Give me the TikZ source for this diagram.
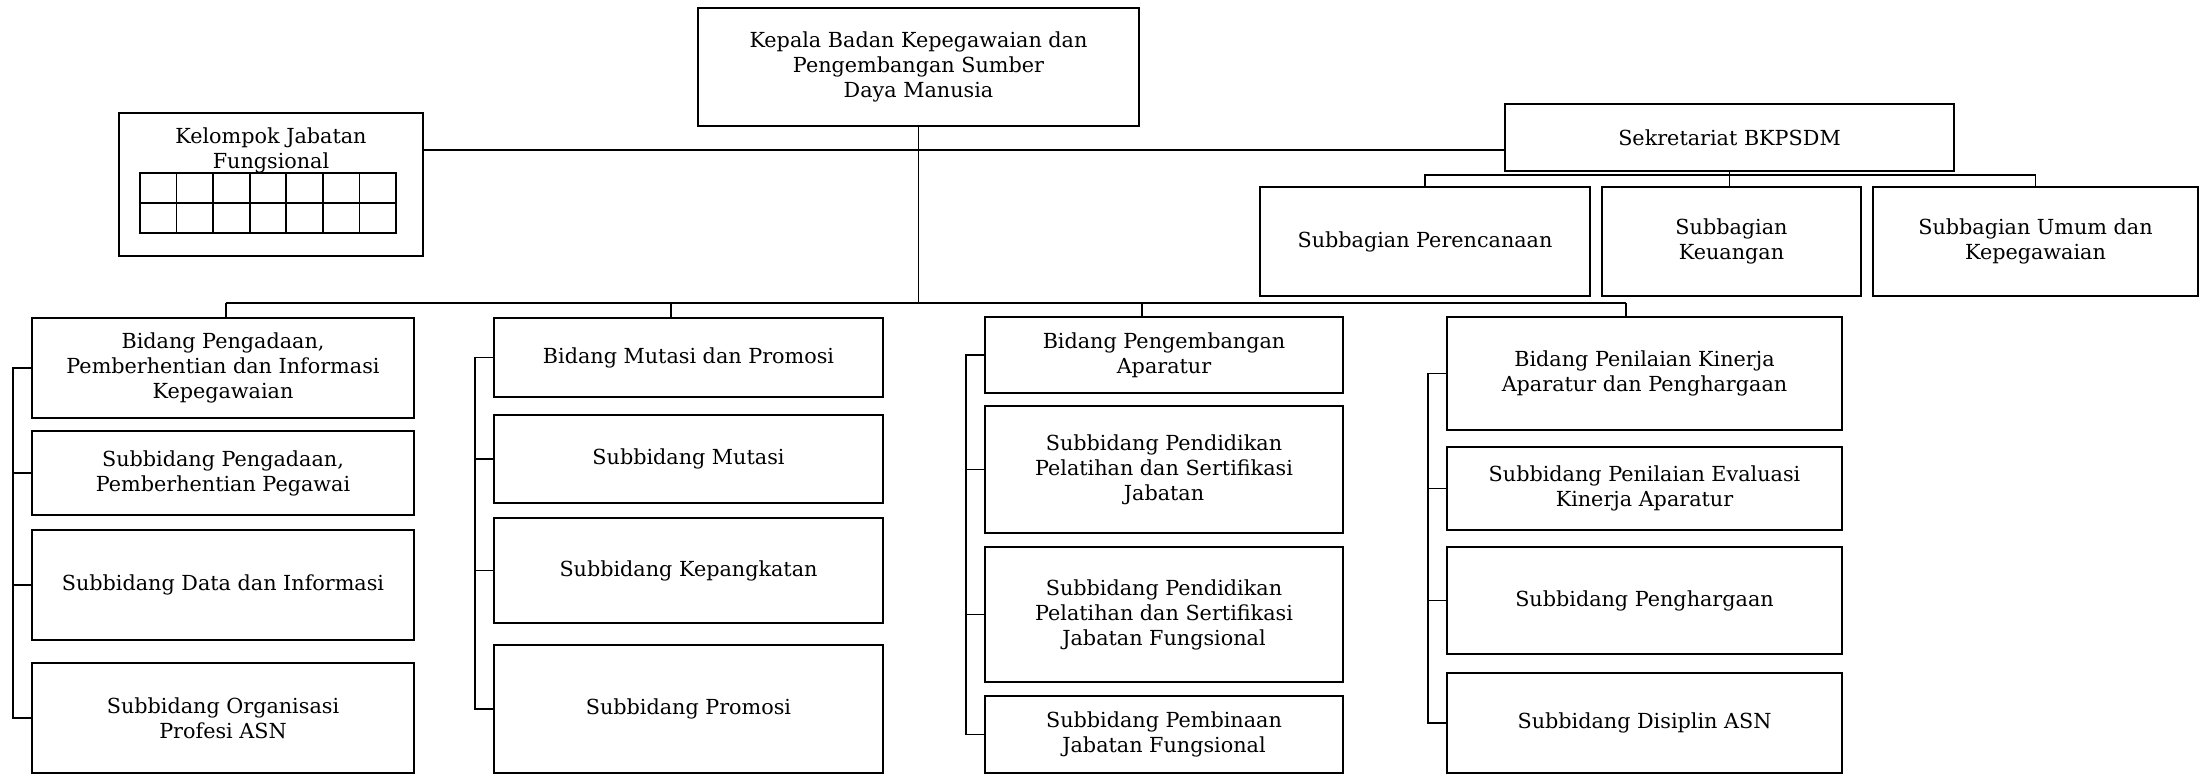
\documentclass[tikz,border=0pt]{standalone}
\usepackage{fontspec}
\setmainfont{DejaVu Serif}

\begin{document}
\begin{tikzpicture}[x=0.02cm,y=-0.02cm,
    box/.style={draw,line width=1pt,inner sep=0pt,outer sep=0pt,align=center,
      font=\fontsize{11.8}{14.2}\selectfont},
    wh/.style args={#1/#2}{minimum width=#1*0.02cm,minimum height=#2*0.02cm},
    lbl/.style={align=center,inner sep=0pt,font=\fontsize{11.8}{14.2}\selectfont},
    link/.style={line width=1pt}]

  \useasboundingbox (0,0) rectangle (2202,775);

  \node[box,wh=441/118] (kep) at (918.5,67)    {Kepala Badan Kepegawaian dan\\Pengembangan Sumber\\Daya Manusia};
  \node[box,wh=304/143] (kel) at (271,184.5)   {};
  \node[lbl]            (kelt) at (271,150)    {Kelompok Jabatan\\Fungsional};
  \node[box,wh=449/67]  (sek) at (1729.5,137.5) {Sekretariat BKPSDM};

  \node[box,wh=330/109] (per) at (1425,241.5)   {Subbagian Perencanaan};
  \node[box,wh=259/109] (keu) at (1731.5,241.5) {Subbagian\\Keuangan};
  \node[box,wh=325/109] (umu) at (2035.5,241.5) {Subbagian Umum dan\\Kepegawaian};

  % bidang pengadaan
  \node[box,wh=382/100] (a1) at (223,368) {Bidang Pengadaan,\\Pemberhentian dan Informasi\\Kepegawaian};
  \node[box,wh=382/84]  (a2) at (223,473) {Subbidang Pengadaan,\\Pemberhentian Pegawai};
  \node[box,wh=382/110] (a3) at (223,585) {Subbidang Data dan Informasi};
  \node[box,wh=382/110] (a4) at (223,718) {Subbidang Organisasi\\Profesi ASN};

  % bidang mutasi
  \node[box,wh=389/79]  (b1) at (688.5,357.5) {Bidang Mutasi dan Promosi};
  \node[box,wh=389/88]  (b2) at (688.5,459)   {Subbidang Mutasi};
  \node[box,wh=389/105] (b3) at (688.5,570.5) {Subbidang Kepangkatan};
  \node[box,wh=389/128] (b4) at (688.5,709)   {Subbidang Promosi};

  % bidang pengembangan
  \node[box,wh=358/76]  (c1) at (1164,355)   {Bidang Pengembangan\\Aparatur};
  \node[box,wh=358/127] (c2) at (1164,469.5) {Subbidang Pendidikan\\Pelatihan dan Sertifikasi\\Jabatan};
  \node[box,wh=358/135] (c3) at (1164,614.5) {Subbidang Pendidikan\\Pelatihan dan Sertifikasi\\Jabatan Fungsional};
  \node[box,wh=358/77]  (c4) at (1164,734.5) {Subbidang Pembinaan\\Jabatan Fungsional};

  % bidang penilaian
  \node[box,wh=395/113] (d1) at (1644.5,373.5) {Bidang Penilaian Kinerja\\Aparatur dan Penghargaan};
  \node[box,wh=395/83]  (d2) at (1644.5,488.5) {Subbidang Penilaian Evaluasi\\Kinerja Aparatur};
  \node[box,wh=395/107] (d3) at (1644.5,600.5) {Subbidang Penghargaan};
  \node[box,wh=395/100] (d4) at (1644.5,723)   {Subbidang Disiplin ASN};

  % tabel jabatan fungsional
  \draw[link] (140,173) rectangle (396,233);
  \draw[link] (140,203) -- (396,203);
  \foreach \i in {1,...,6}
    \draw[link] ({140+\i*256/7},173) -- ({140+\i*256/7},233);

  % garis
  \coordinate (bus) at (kep.south |- 0,303);
  \coordinate (ba) at (226,303);
  \coordinate (bd) at (1626,303);
  \draw[link] (kep.south) -- (bus);
  \draw[link] (ba) -- (bd);
  \draw[link] (kel.east |- 0,150) -- (sek.west |- 0,150);
  \draw[link] (ba) -- (ba |- a1.north);
  \draw[link] (671,303) coordinate (bb) -- (bb |- b1.north);
  \draw[link] (1142,303) coordinate (bc) -- (bc |- c1.north);
  \draw[link] (bd) -- (bd |- d1.north);

  \draw[link] (sek.south) -- ++(0,4) coordinate (sb);
  \draw[link] (per.north) |- (sb) -| (umu.north);
  \draw[link] (sb) -- (sb |- keu.north);

  \foreach \c in {a,b,c,d} {
    \draw[link] (\c1.west) -- ++(-19,0) |- (\c4.west);
    \draw[link] (\c2.west) -- ++(-19,0);
    \draw[link] (\c3.west) -- ++(-19,0);
  }
\end{tikzpicture}
\end{document}
